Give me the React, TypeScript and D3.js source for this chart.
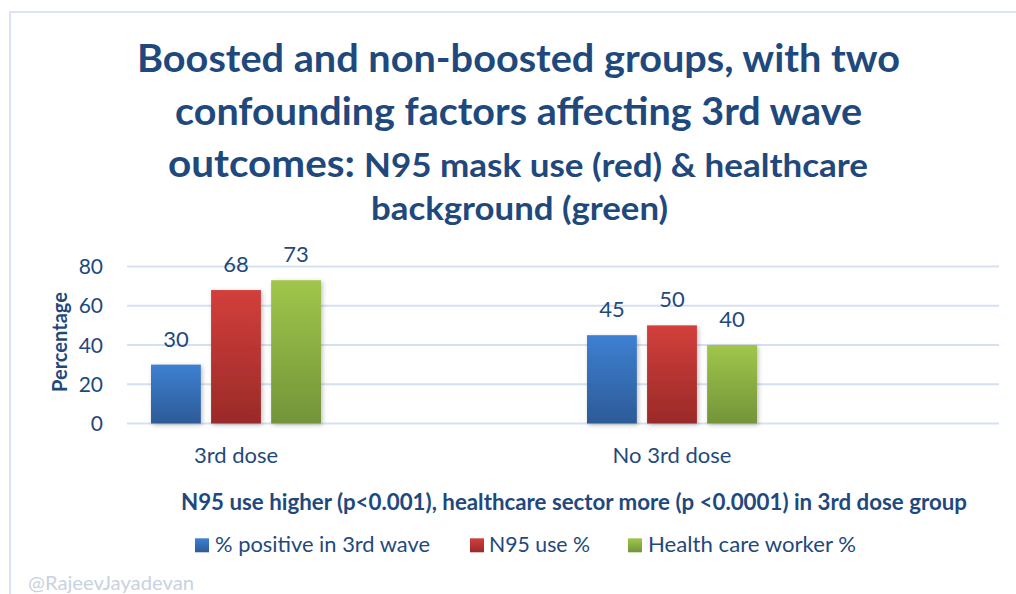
import React from "react";
import * as d3 from "d3";

const categories = ["3rd dose", "", "No 3rd dose", ""];
const seriesNames = ["% positive in 3rd wave", "N95 use %", "Health care worker %"];
const positiveValues = [30, null, 45, null];
const n95Values = [68, null, 50, null];
const hcwValues = [73, null, 40, null];
const yTicks = [0, 20, 40, 60, 80];
const titleLines = [
  "Boosted and non-boosted groups, with two",
  "confounding factors affecting 3rd wave",
];
const titleLine3Big = "outcomes:";
const titleLine3Small = "N95 mask use (red) & healthcare";
const titleLine4 = "background (green)";
const subtitle = "N95 use higher (p<0.001), healthcare sector more (p <0.0001) in 3rd dose group";
const yAxisTitle = "Percentage";
const watermark = "@RajeevJayadevan";

const W = 1016;
const H = 594;
const FONT = "Lato, 'Open Sans', sans-serif";
const TEXT = "#1F497D";
const gradients = [
  { id: "gBlue", top: "#3e80d2", bottom: "#2c5b97" },
  { id: "gRed", top: "#d23f3b", bottom: "#9a2a28" },
  { id: "gGreen", top: "#a0c64b", bottom: "#739439" },
];

export default function App() {
  const series = [positiveValues, n95Values, hcwValues];
  const x = d3.scaleBand<string>().domain(categories.map((c, i) => i + ":" + c)).range([127, 999]).padding(0);
  const y = d3.scaleLinear().domain([0, 80]).range([423.5, 266.5]);
  const groupW = 170;
  const xs = d3.scaleBand<number>().domain([0, 1, 2]).range([0, groupW]).paddingInner(0.17).paddingOuter(0);
  const keys = x.domain();

  const legendItems = [
    { sq: 195, tx: 215, len: 215 },
    { sq: 470, tx: 489, len: 101 },
    { sq: 628, tx: 648, len: 208 },
  ];

  return (
    <svg width={W} height={H} style={{ position: "absolute", left: 0, top: 0, background: "#fff" }}>
      <defs>
        {gradients.map((g) => (
          <linearGradient key={g.id} id={g.id} x1="0" y1="0" x2="0" y2="1">
            <stop offset="0" stopColor={g.top} />
            <stop offset="1" stopColor={g.bottom} />
          </linearGradient>
        ))}
        <filter id="shadow" x="-20%" y="-20%" width="140%" height="140%">
          <feDropShadow dx="1.5" dy="1.5" stdDeviation="2" floodColor="#000" floodOpacity="0.25" />
        </filter>
      </defs>
      <rect x={0} y={0} width={W} height={H} fill="#fff" />
      {/* chart border */}
      <rect x={10} y={12} width={1100} height={700} fill="none" stroke="#dbe5f1" strokeWidth={2} />

      {/* title */}
      <g fill={TEXT} fontFamily={FONT} fontWeight="bold">
        <text x={137} y={72} fontSize={37.5} textLength={763} lengthAdjust="spacingAndGlyphs">{titleLines[0]}</text>
        <text x={175} y={124.5} fontSize={37.5} textLength={687} lengthAdjust="spacingAndGlyphs">{titleLines[1]}</text>
        <text x={168} y={177} fontSize={37.5} textLength={187} lengthAdjust="spacingAndGlyphs">{titleLine3Big}</text>
        <text x={364} y={177} fontSize={32} textLength={504} lengthAdjust="spacingAndGlyphs">{titleLine3Small}</text>
        <text x={371} y={220} fontSize={32} textLength={297} lengthAdjust="spacingAndGlyphs">{titleLine4}</text>
      </g>

      {/* gridlines */}
      <g>
        {yTicks.map((t) => (
          <line key={t} x1={127} x2={999} y1={y(t)} y2={y(t)} stroke="#d5e1f0" strokeWidth={2} />
        ))}
      </g>
      {/* y tick labels */}
      <g fill={TEXT} fontFamily={FONT} fontSize={21} textAnchor="end">
        {yTicks.map((t) => (
          <text key={t} x={103} y={y(t) + 7.5}>{t}</text>
        ))}
      </g>
      {/* y axis title */}
      <text
        transform="translate(67,342) rotate(-90)"
        textAnchor="middle"
        fill={TEXT}
        fontFamily={FONT}
        fontWeight="bold"
        fontSize={21}
        textLength={100}
        lengthAdjust="spacingAndGlyphs"
      >
        {yAxisTitle}
      </text>

      {/* bars */}
      {keys.map((k, ci) => {
        const cx = (x(k) as number) + x.bandwidth() / 2;
        const gx = cx - groupW / 2;
        return (
          <g key={k}>
            {series.map((s, si) => {
              const v = s[ci];
              if (v == null) return null;
              const bx = gx + (xs(si) as number);
              return (
                <g key={si}>
                  <rect
                    x={bx}
                    y={y(v)}
                    width={xs.bandwidth()}
                    height={y(0) - y(v)}
                    fill={`url(#${gradients[si].id})`}
                    filter="url(#shadow)"
                  />
                  <text
                    x={bx + xs.bandwidth() / 2}
                    y={y(v) - 18}
                    textAnchor="middle"
                    fill={TEXT}
                    fontFamily={FONT}
                    fontSize={22}
                  >
                    {v}
                  </text>
                </g>
              );
            })}
            {categories[ci] !== "" && (
              <text x={cx} y={463} textAnchor="middle" fill={TEXT} fontFamily={FONT} fontSize={22}>
                {categories[ci]}
              </text>
            )}
          </g>
        );
      })}

      {/* subtitle */}
      <text
        x={181}
        y={509.5}
        fill={TEXT}
        fontFamily={FONT}
        fontWeight="bold"
        fontSize={22}
        textLength={786}
        lengthAdjust="spacingAndGlyphs"
      >
        {subtitle}
      </text>

      {/* legend */}
      {seriesNames.map((name, i) => (
        <g key={name}>
          <rect x={legendItems[i].sq} y={538.3} width={14} height={14} fill={`url(#${gradients[i].id})`} />
          <text
            x={legendItems[i].tx}
            y={552.3}
            fill={TEXT}
            fontFamily={FONT}
            fontSize={21.5}
            textLength={legendItems[i].len}
            lengthAdjust="spacingAndGlyphs"
          >
            {name}
          </text>
        </g>
      ))}

      {/* watermark */}
      <text
        x={28}
        y={590}
        fill="#c9d2de"
        fontFamily={FONT}
        fontSize={20}
        textLength={166}
        lengthAdjust="spacingAndGlyphs"
      >
        {watermark}
      </text>
    </svg>
  );
}
